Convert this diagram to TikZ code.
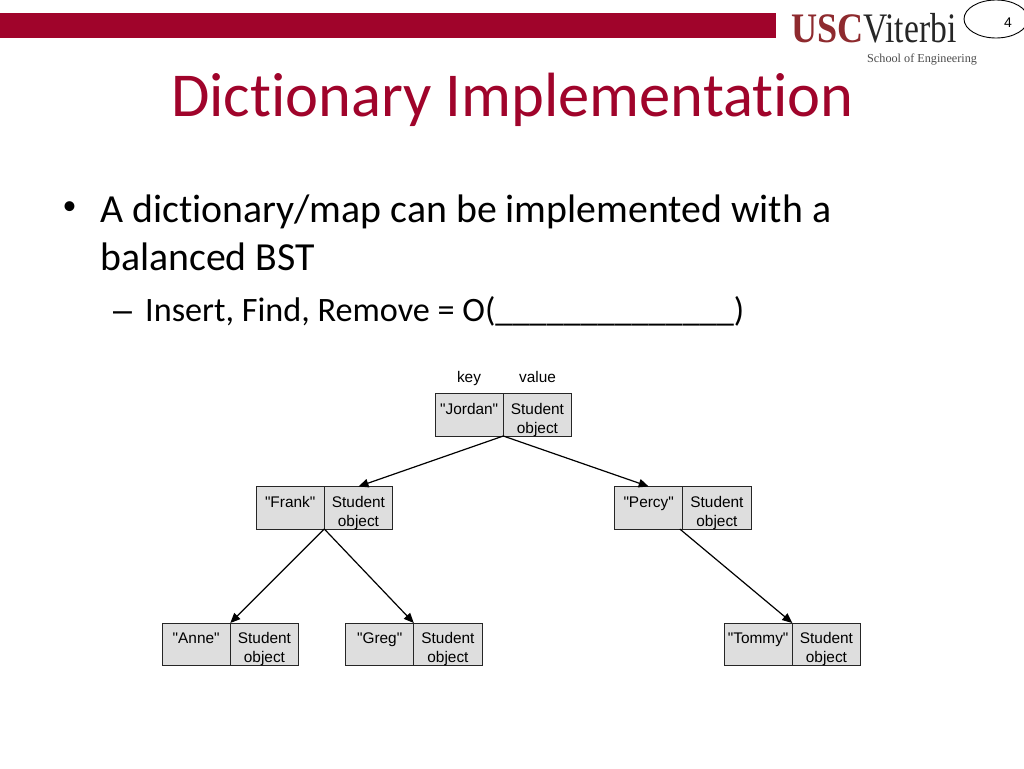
\documentclass[tikz,border=0pt]{standalone}
\usepackage{fontspec}
\setmainfont[Ligatures=NoCommon]{Carlito}
\newfontfamily\arialf{Liberation Sans}
\newfontfamily\timesf{Liberation Serif}
\usetikzlibrary{arrows.meta,calc}
\definecolor{uscred}{HTML}{A0042B}
\definecolor{logored}{HTML}{8E2A2E}
\definecolor{cellgray}{HTML}{DEDEDE}
\tikzset{
  cell/.style={draw=black!85,line width=1pt,fill=cellgray,minimum width=68.3pt,minimum height=42.5pt,inner sep=0pt,outer sep=0pt,anchor=north west},
  celltext/.style={font=\arialf\fontsize{15.4}{19}\selectfont,align=center,inner sep=0pt},
  conn/.style={line width=1.2pt,-{Triangle[length=10pt,width=8.5pt]}},
  bodytext/.style={anchor=base west,inner sep=0pt,text=black},
}
\newcommand{\pairbox}[4]{%
  \node[cell] (#1k) at (#2,#3) {};
  \node[cell] (#1v) at (#1k.north east) {};
  \node[celltext,anchor=base] (#1kt) at ($(#1k.north)+(0,20.5)$) {#4};
  \node[celltext,anchor=base] (#1vt) at ($(#1v.north)+(0,39.5)$) {Student\\object};
}
\begin{document}
\begin{tikzpicture}[x=1pt,y=-1pt]
\useasboundingbox (0,0) rectangle (1024,768);
\fill[white] (0,0) rectangle (1024,768);
\fill[uscred] (0,13) rectangle (776,38);
\node[anchor=base west,inner sep=0pt,text=logored,font=\timesf\bfseries\fontsize{42}{42}\selectfont] (usc) at (791,43) {\scalebox{0.86}[1]{USC}};
\node[anchor=base west,inner sep=0pt,text=black!85,font=\timesf\fontsize{42}{42}\selectfont] (vit) at (863,43) {\scalebox{0.8}[1]{Viterbi}};
\node[anchor=base west,inner sep=0pt,text=black!70,font=\timesf\fontsize{12.2}{12.2}\selectfont] (soe) at (867,62.5) {School of Engineering};
\draw[line width=0.9pt,fill=white] (996,19) ellipse [x radius=32,y radius=19];
\node[inner sep=0pt,font=\arialf\fontsize{14}{14}\selectfont] (pg) at (1008,22.5) {4};
\node[bodytext,text=uscred,font=\fontsize{62.5}{62.5}\selectfont] (title) at (171,116.5) {Dictionary Implementation};
\node[bodytext,font=\fontsize{28}{28}\selectfont] (b1) at (62.5,214.5) {•};
\node[bodytext,font=\fontsize{39.8}{39.8}\selectfont] (l1) at (100,222) {A dictionary/map can be implemented with a};
\node[bodytext,font=\fontsize{39.8}{39.8}\selectfont] (l2) at (100,270) {balanced BST};
\node[bodytext,font=\arialf\fontsize{34}{34}\selectfont] (d1) at (113,321) {–};
\node[bodytext,font=\fontsize{34.2}{34.2}\selectfont] (l3) at (145,321) {Insert, Find, Remove = O(\_\_\_\_\_\_\_\_\_\_\_\_\_\_)};
\pairbox{j}{435}{393.5}{"Jordan"}
\pairbox{f}{256}{486.5}{"Frank"}
\pairbox{p}{614.5}{486.5}{"Percy"}
\pairbox{a}{162}{623}{"Anne"}
\pairbox{g}{345.5}{623}{"Greg"}
\pairbox{t}{724}{623}{"Tommy"}
\node[celltext,anchor=base] (keyl) at (469,382) {key};
\node[celltext,anchor=base] (vall) at (537.5,382) {value};
\draw[conn] (jk.south east) -- (fv.north);
\draw[conn] (jk.south east) -- (pk.north);
\draw[conn] (fk.south east) -- (ak.north east);
\draw[conn] (fk.south east) -- (gk.north east);
\draw[conn] ([xshift=-3pt]pk.south east) -- (tk.north east);
\end{tikzpicture}
\end{document}
